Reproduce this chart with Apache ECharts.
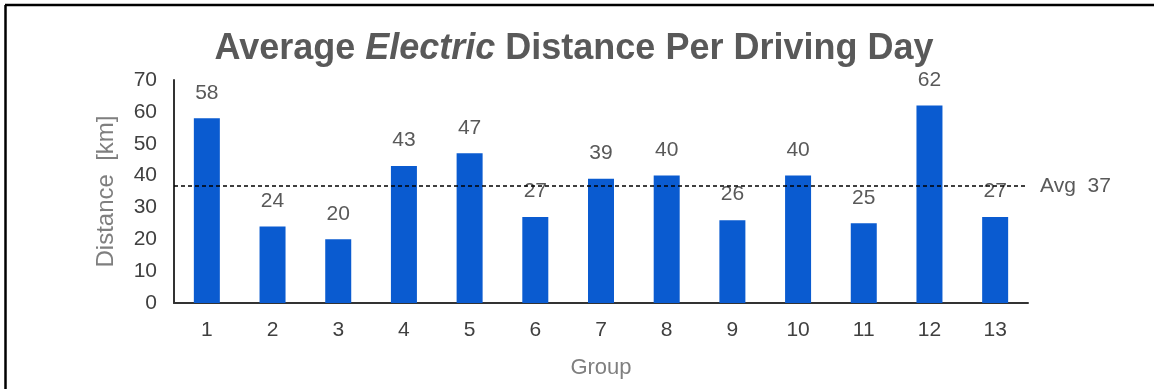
<!DOCTYPE html>
<html>
<head>
<meta charset="utf-8">
<script src="https://cdn.jsdelivr.net/npm/echarts@6/dist/echarts.min.js"></script>
<style>
  html, body { margin: 0; padding: 0; background: #fff; }
  #chart { width: 1154px; height: 389px; }
</style>
</head>
<body>
<div id="chart"></div>
<script>
// Groups along the x axis
const groups = ['1', '2', '3', '4', '5', '6', '7', '8', '9', '10', '11', '12', '13'];
// Average electric distance per driving day, km
const distances = [58, 24, 20, 43, 47, 27, 39, 40, 26, 40, 25, 62, 27];

const FONT = '"Liberation Sans", Arial, sans-serif';

const chart = echarts.init(document.getElementById('chart'));
chart.setOption({
  animation: false,
  backgroundColor: '#ffffff',
  title: {
    text: '{b|Average }{bi|Electric}{b| Distance Per Driving Day}',
    left: 569,
    top: 26,
    textAlign: 'center',
    textStyle: {
      rich: {
        b: { fontFamily: FONT, fontSize: 36, fontWeight: 'bold', color: '#595959' },
        bi: { fontFamily: FONT, fontSize: 36, fontWeight: 'bold', fontStyle: 'italic', color: '#595959' }
      }
    }
  },
  graphic: [
    { type: 'line', shape: { x1: 5, y1: 5, x2: 1154, y2: 5 }, style: { stroke: '#000', lineWidth: 2.5 } },
    { type: 'line', shape: { x1: 5.5, y1: 5, x2: 5.5, y2: 389 }, style: { stroke: '#000', lineWidth: 2.5 } }
  ],
  grid: { left: 174, right: 126, top: 80, bottom: 86 },
  xAxis: {
    type: 'category',
    data: groups,
    name: 'Group',
    nameLocation: 'middle',
    nameGap: 54,
    nameTextStyle: { fontFamily: FONT, fontSize: 22, color: '#7f7f7f' },
    axisLine: { lineStyle: { color: '#333', width: 2 } },
    axisTick: { show: false },
    axisLabel: { fontFamily: FONT, fontSize: 21, color: '#404040', margin: 17 }
  },
  yAxis: {
    type: 'value',
    min: 0,
    max: 70,
    interval: 10,
    name: 'Distance  [km]',
    nameLocation: 'middle',
    nameGap: 56,
    nameTextStyle: { fontFamily: FONT, fontSize: 24, color: '#7f7f7f' },
    axisLine: { show: true, lineStyle: { color: '#333', width: 2 } },
    axisTick: { show: false },
    splitLine: { show: false },
    axisLabel: { fontFamily: FONT, fontSize: 21, color: '#404040', margin: 17 }
  },
  series: [{
    type: 'bar',
    data: distances,
    barWidth: 26,
    itemStyle: { color: '#0a5bd0' },
    label: {
      show: true,
      position: 'top',
      distance: 15,
      fontFamily: FONT,
      fontSize: 21,
      color: '#595959'
    },
    markLine: {
      silent: true,
      symbol: 'none',
      data: [{ type: 'average' }],
      lineStyle: { color: '#000', type: [4, 3], width: 1.5 },
      label: {
        position: 'end',
        distance: 12,
        fontFamily: FONT,
        fontSize: 21,
        color: '#595959',
        formatter: p => 'Avg  ' + Math.round(p.value)
      }
    }
  }]
});
</script>
</body>
</html>
